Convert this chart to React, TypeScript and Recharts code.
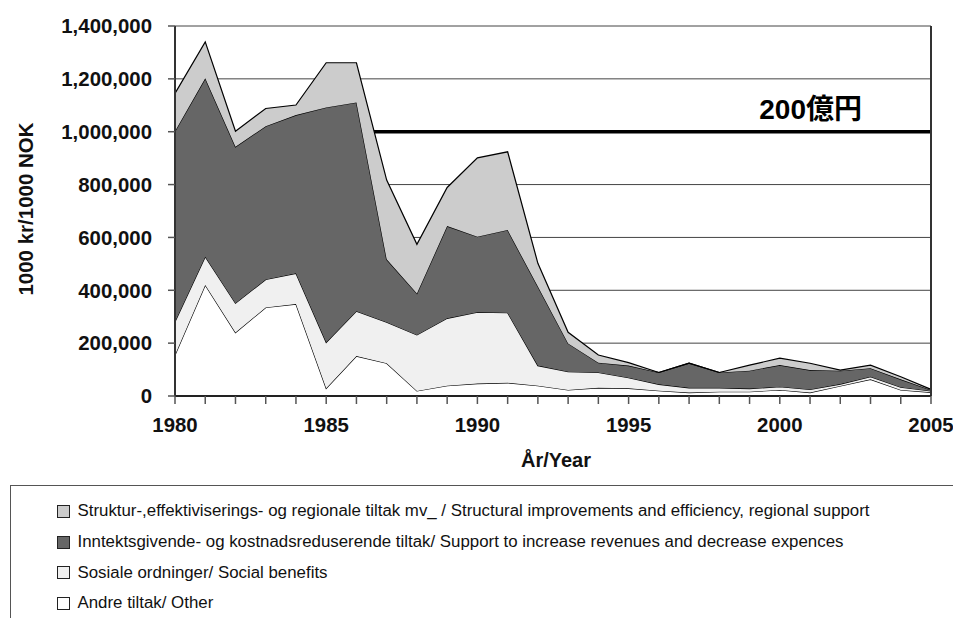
import React from 'react';
import {
  AreaChart,
  Area,
  XAxis,
  YAxis,
  CartesianGrid,
  ReferenceLine,
  Legend,
} from 'recharts';

// Fishery support, 1000 NOK, stacked by measure type
const years = [
  1980, 1981, 1982, 1983, 1984, 1985, 1986, 1987, 1988, 1989, 1990, 1991, 1992,
  1993, 1994, 1995, 1996, 1997, 1998, 1999, 2000, 2001, 2002, 2003, 2004, 2005,
];

const other = [
  155000, 420000, 240000, 335000, 348000, 29000, 151000, 124000, 19000, 39000, 47000, 50000, 39000,
  23000, 31000, 29000, 20000, 13000, 16000, 16000, 23000, 13000, 38000, 63000, 23000, 14000,
];

const social = [
  126000, 107000, 111000, 106000, 116000, 174000, 170000, 155000, 212000, 255000, 270000, 265000, 76000,
  69000, 58000, 40000, 24000, 18000, 15000, 12000, 12000, 12000, 7000, 10000, 10000, 5000,
];

const income = [
  721000, 675000, 592000, 580000, 599000, 889000, 790000, 238000, 157000, 349000, 286000, 313000, 299000,
  107000, 37000, 46000, 45000, 93000, 58000, 68000, 82000, 73000, 51000, 32000, 30000, 4000,
];

const structural = [
  143000, 138000, 59000, 67000, 38000, 169000, 150000, 300000, 186000, 146000, 298000, 296000, 88000,
  42000, 29000, 11000, 0, 0, 0, 21000, 26000, 26000, 2000, 12000, 10000, 2000,
];

const yTicks = [0, 200000, 400000, 600000, 800000, 1000000, 1200000, 1400000];
const referenceValue = 1000000;
const referenceText = '200億円';

const seriesNames = {
  structural:
    'Struktur-,effektiviserings- og regionale tiltak mv_ / Structural improvements and efficiency, regional support',
  income:
    'Inntektsgivende- og kostnadsreduserende tiltak/ Support to increase revenues and decrease expences',
  social: 'Sosiale ordninger/ Social benefits',
  other: 'Andre tiltak/ Other',
};

// legend lists the top layer first
const legendOrder = ['structural', 'income', 'social', 'other'];

const fills = {
  structural: '#cccccc',
  income: '#666666',
  social: '#f0f0f0',
  other: '#ffffff',
};

const data = years.map((year, i) => ({
  year,
  other: other[i],
  social: social[i],
  income: income[i],
  structural: structural[i],
}));

const FONT = '"Liberation Sans", Arial, Helvetica, sans-serif';

const renderLegend = (props: any) => {
  const payload = props.payload || [];
  const items = legendOrder
    .map((key) => payload.find((p: any) => p.dataKey === key))
    .filter(Boolean);
  return (
    <div style={{ paddingTop: 10, paddingLeft: 45.5, fontFamily: FONT, fontSize: 16.85, color: '#111' }}>
      {items.map((entry: any) => {
        const key = entry.dataKey as keyof typeof fills;
        return (
          <div key={String(entry.dataKey)} style={{ height: 30.7, display: 'flex', alignItems: 'center', whiteSpace: 'nowrap' }}>
            <span
              style={{
                display: 'inline-block',
                flex: 'none',
                width: 13,
                height: 13,
                boxSizing: 'border-box',
                border: '1px solid #222',
                background: fills[key],
                marginRight: 8,
              }}
            />
            <span>{entry.value}</span>
          </div>
        );
      })}
    </div>
  );
};

export default function App() {
  return (
    <div style={{ position: 'absolute', left: 0, top: 0, width: 953, height: 618, overflow: 'hidden', background: '#fff' }}>
      <AreaChart width={953} height={618} data={data} margin={{ top: 26, right: 22, left: 0, bottom: 152 }}>
        <CartesianGrid horizontal vertical={false} stroke="#444" strokeWidth={1} />
        <ReferenceLine
          y={referenceValue}
          stroke="#000"
          strokeWidth={3.5}
          zIndex={50}
          label={{
            content: (p: any) => {
              const vb = p.viewBox || {};
              return (
                <text
                  x={vb.x + vb.width - 69}
                  y={vb.y - 13}
                  textAnchor="end"
                  fontFamily={'"Liberation Sans", "Noto Sans CJK JP", sans-serif'}
                  fontWeight={700}
                  fontSize={28}
                  fill="#000"
                >
                  {referenceText}
                </text>
              );
            },
          }}
        />
        <XAxis
          dataKey="year"
          type="number"
          domain={[1980, 2005]}
          ticks={years}
          interval={0}
          tickFormatter={(v: number) => (v % 5 === 0 ? String(v) : '')}
          tickSize={8}
          tickMargin={14}
          height={70}
          axisLine={{ stroke: '#222', strokeWidth: 2 }}
          tickLine={{ stroke: '#555', strokeWidth: 1.5 }}
          tick={{ fontFamily: FONT, fontWeight: 700, fontSize: 20.4, fill: '#111' }}
          label={{
            content: (p: any) => {
              const vb = p.viewBox || {};
              return (
                <text
                  x={vb.x + vb.width / 2 + 3}
                  y={467}
                  textAnchor="middle"
                  fontFamily={FONT}
                  fontWeight={700}
                  fontSize={20}
                  fill="#111"
                >
                  År/Year
                </text>
              );
            },
          }}
        />
        <YAxis
          type="number"
          domain={[0, 1400000]}
          ticks={yTicks}
          interval={0}
          width={175}
          tickSize={7}
          tickMargin={16}
          tickFormatter={(v: number) => v.toLocaleString('en-US')}
          axisLine={{ stroke: '#333', strokeWidth: 2 }}
          tickLine={{ stroke: '#555', strokeWidth: 1.5 }}
          tick={{ fontFamily: FONT, fontWeight: 700, fontSize: 20.4, fill: '#111' }}
          label={{
            content: (p: any) => {
              const vb = p.viewBox || {};
              const cx = 25;
              const cy = vb.y + vb.height / 2 - 2;
              return (
                <text
                  x={cx}
                  y={cy}
                  transform={`rotate(-90 ${cx} ${cy})`}
                  textAnchor="middle"
                  dominantBaseline="central"
                  fontFamily={FONT}
                  fontWeight={700}
                  fontSize={20.5}
                  fill="#111"
                >
                  1000 kr/1000 NOK
                </text>
              );
            },
          }}
        />
        <Area
          type="linear"
          dataKey="other"
          name={seriesNames.other}
          stackId="1"
          stroke="#000"
          strokeWidth={1.2}
          fill={fills.other}
          fillOpacity={1}
          isAnimationActive={false}
        />
        <Area
          type="linear"
          dataKey="social"
          name={seriesNames.social}
          stackId="1"
          stroke="#000"
          strokeWidth={1.2}
          fill={fills.social}
          fillOpacity={1}
          isAnimationActive={false}
        />
        <Area
          type="linear"
          dataKey="income"
          name={seriesNames.income}
          stackId="1"
          stroke="#000"
          strokeWidth={1.2}
          fill={fills.income}
          fillOpacity={1}
          isAnimationActive={false}
        />
        <Area
          type="linear"
          dataKey="structural"
          name={seriesNames.structural}
          stackId="1"
          stroke="#000"
          strokeWidth={1.2}
          fill={fills.structural}
          fillOpacity={1}
          isAnimationActive={false}
        />
        <ReferenceLine x={2005} stroke="#333" strokeWidth={2} />
        <Legend
          layout="vertical"
          align="center"
          verticalAlign="middle"
          content={renderLegend}
          wrapperStyle={{
            left: 10,
            top: 485,
            width: 943,
            height: 140,
            boxSizing: 'border-box',
            borderTop: '1.5px solid #555',
            borderLeft: '1.5px solid #555',
            background: '#fff',
          }}
        />
      </AreaChart>
    </div>
  );
}
